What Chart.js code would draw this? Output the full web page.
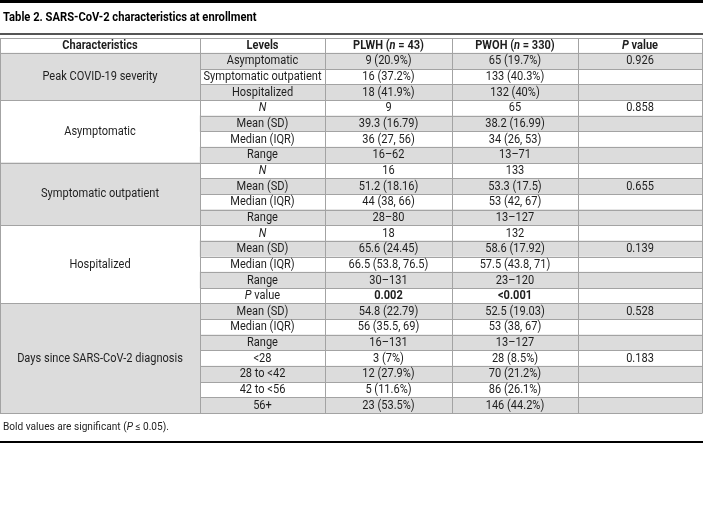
<!DOCTYPE html>
<html>
<head>
<meta charset="utf-8">
<script src="https://cdn.jsdelivr.net/npm/chart.js@4"></script>
<style>
  html, body { margin: 0; padding: 0; background: #fff; }
  canvas { display: block; }
</style>
</head>
<body>
<canvas id="tbl" width="703" height="509"></canvas>
<script>
// Table 2 redrawn on a Chart.js canvas: rows = category axis, columns = linear axis
const TITLE = 'Table 2. SARS-CoV-2 characteristics at enrollment';
const NOTE = 'Bold values are significant (_P_ ≤ 0.05).';
const HEADERS = ['Characteristics', 'Levels', 'PLWH (_n_ = 43)', 'PWOH (_n_ = 330)', '_P_ value'];
const GROUP_LABELS = ['Peak COVID-19 severity', 'Asymptomatic', 'Symptomatic outpatient', 'Hospitalized', 'Days since SARS-CoV-2 diagnosis'];
const GROUP_SIZES = [3, 4, 4, 5, 7];
const LEVELS = ['Asymptomatic', 'Symptomatic outpatient', 'Hospitalized',
  '_N_', 'Mean (SD)', 'Median (IQR)', 'Range',
  '_N_', 'Mean (SD)', 'Median (IQR)', 'Range',
  '_N_', 'Mean (SD)', 'Median (IQR)', 'Range', '_P_ value',
  'Mean (SD)', 'Median (IQR)', 'Range', '<28', '28 to <42', '42 to <56', '56+'];
const PLWH = ['9 (20.9%)', '16 (37.2%)', '18 (41.9%)',
  '9', '39.3 (16.79)', '36 (27, 56)', '16–62',
  '16', '51.2 (18.16)', '44 (38, 66)', '28–80',
  '18', '65.6 (24.45)', '66.5 (53.8, 76.5)', '30–131', '**0.002**',
  '54.8 (22.79)', '56 (35.5, 69)', '16–131', '3 (7%)', '12 (27.9%)', '5 (11.6%)', '23 (53.5%)'];
const PWOH = ['65 (19.7%)', '133 (40.3%)', '132 (40%)',
  '65', '38.2 (16.99)', '34 (26, 53)', '13–71',
  '133', '53.3 (17.5)', '53 (42, 67)', '13–127',
  '132', '58.6 (17.92)', '57.5 (43.8, 71)', '23–120', '**<0.001**',
  '52.5 (19.03)', '53 (38, 67)', '13–127', '28 (8.5%)', '70 (21.2%)', '86 (26.1%)', '146 (44.2%)'];
const PVALUE = ['0.926', '', '',
  '0.858', '', '', '',
  '', '0.655', '', '',
  '', '0.139', '', '', '',
  '0.528', '', '', '0.183', '', '', ''];

// layout
const COL_EDGES = [0, 200, 325, 452, 578, 702];
const FONT = 'Roboto, "Noto Sans", sans-serif';
const SX = 0.92;          // squeeze to look like the narrow journal face
const SHADE = '#dcdcdc';
const RULE = '#a3a3a3';
const INK = '#1e1e1e';

const NROWS = LEVELS.length + 1;   // + header row
const rowLabels = Array.from({ length: NROWS }, (_, i) => String(i));

// which group each data row belongs to
const groupOf = [];
GROUP_SIZES.forEach((n, g) => { for (let k = 0; k < n; k++) groupOf.push(g); });

const rowShade = [null, ...LEVELS.map((_, r) => r % 2 === 0 ? [COL_EDGES[1], COL_EDGES[5]] : null)];
const groupShade = [null, ...groupOf.map(g => g % 2 === 0 ? [COL_EDGES[0], COL_EDGES[1]] : null)];

function parseRich(s) {
  let bold = false;
  if (s.startsWith('**')) { bold = true; s = s.slice(2, -2); }
  return s.split('_').map((t, i) => ({ t, it: i % 2 === 1, bold })).filter(p => p.t);
}

function drawRich(ctx, s, x, y, size, opts = {}) {
  const segs = parseRich(s);
  const sx = opts.sx || SX;
  const fontOf = p => `${p.it ? 'italic ' : ''}${(p.bold || opts.bold) ? 'bold ' : ''}${size}px ${FONT}`;
  let w = 0;
  for (const p of segs) { ctx.font = fontOf(p); w += ctx.measureText(p.t).width; }
  ctx.save();
  ctx.translate(opts.left ? x : x - w * sx / 2, y);
  ctx.scale(sx, 1);
  let cx = 0;
  for (const p of segs) { ctx.font = fontOf(p); ctx.fillText(p.t, cx, 0); cx += ctx.measureText(p.t).width; }
  ctx.restore();
}

const crisp = v => Math.round(v) + 0.5;

const tablePlugin = {
  id: 'tablePlugin',
  afterDatasetsDraw(chart) {
    const { ctx, scales: { x, y }, chartArea: ca } = chart;
    const rowY = i => y.getPixelForValue(i);
    const edgeY = k => k === 0 ? ca.top : k === NROWS ? ca.bottom : (rowY(k - 1) + rowY(k)) / 2;
    const colX = c => x.getPixelForValue(COL_EDGES[c]);
    const colMid = c => x.getPixelForValue((COL_EDGES[c] + COL_EDGES[c + 1]) / 2);

    // rules
    ctx.save();
    ctx.strokeStyle = RULE;
    ctx.lineWidth = 1;
    ctx.beginPath();
    for (let k = 0; k <= NROWS; k++) {
      const yy = crisp(edgeY(k));
      const groupEdge = k <= 1 || k === NROWS || groupOf[k - 1] !== groupOf[k - 2];
      ctx.moveTo(groupEdge ? colX(0) : colX(1), yy);
      ctx.lineTo(colX(5), yy);
    }
    for (let c = 0; c < COL_EDGES.length; c++) {
      const xx = crisp(colX(c));
      ctx.moveTo(xx, crisp(ca.top));
      ctx.lineTo(xx, crisp(ca.bottom));
    }
    ctx.stroke();

    // text
    ctx.fillStyle = INK;
    ctx.textBaseline = 'middle';
    ctx.textAlign = 'left';
    HEADERS.forEach((h, c) => drawRich(ctx, h, colMid(c), rowY(0) + 0.5, 12, { bold: true }));
    let start = 1;
    GROUP_LABELS.forEach((g, gi) => {
      const yy = (edgeY(start) + edgeY(start + GROUP_SIZES[gi])) / 2;
      drawRich(ctx, g, colMid(0), yy + 0.5, 12);
      start += GROUP_SIZES[gi];
    });
    [LEVELS, PLWH, PWOH, PVALUE].forEach((col, ci) => {
      col.forEach((v, r) => { if (v) drawRich(ctx, v, colMid(ci + 1), rowY(r + 1) + 0.5, 12); });
    });

    // title, rules and footnote around the table
    ctx.fillStyle = '#000';
    ctx.fillRect(0, 0, chart.width, 3);
    drawRich(ctx, TITLE, 3, 18, 13, { bold: true, left: true, sx: 0.86 });
    ctx.fillStyle = '#555';
    ctx.fillRect(0, 33, chart.width, 2);
    ctx.fillStyle = INK;
    drawRich(ctx, NOTE, 3, 427, 11, { left: true });
    ctx.fillStyle = '#000';
    ctx.fillRect(0, 441, chart.width, 2);
    ctx.restore();
  }
};

new Chart(document.getElementById('tbl'), {
  type: 'bar',
  data: {
    labels: rowLabels,
    datasets: [
      { data: groupShade, backgroundColor: SHADE, borderWidth: 0 },
      { data: rowShade, backgroundColor: SHADE, borderWidth: 0 },
    ]
  },
  options: {
    indexAxis: 'y',
    responsive: false,
    animation: false,
    devicePixelRatio: 1,
    layout: { padding: { top: 37.5, bottom: 96, left: 0, right: 1 } },
    datasets: { bar: { grouped: false, barPercentage: 1, categoryPercentage: 1 } },
    plugins: { legend: { display: false }, tooltip: { enabled: false }, title: { display: false } },
    scales: {
      x: { type: 'linear', min: COL_EDGES[0], max: COL_EDGES[5], display: false },
      y: { type: 'category', display: false, offset: true }
    }
  },
  plugins: [tablePlugin]
});
</script>
</body>
</html>
